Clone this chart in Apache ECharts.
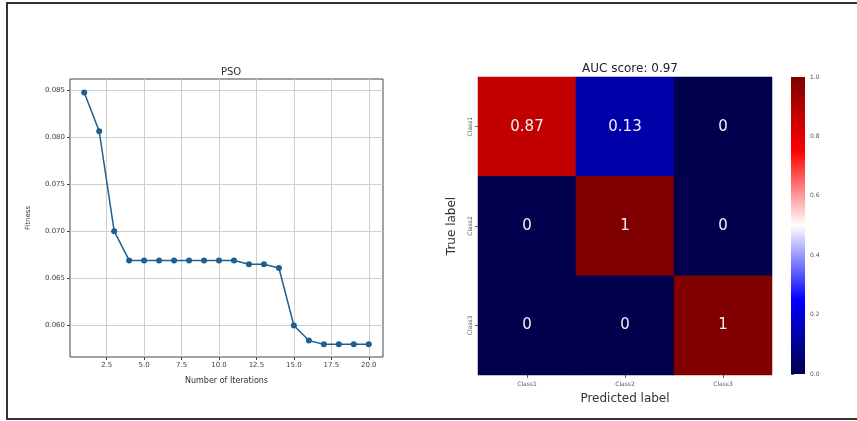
<!DOCTYPE html>
<html>
<head>
<meta charset="utf-8">
<script src="https://cdn.jsdelivr.net/npm/echarts@6/dist/echarts.min.js"></script>
<style>
  html, body { margin: 0; padding: 0; background: #fff; }
  #chart { width: 857px; height: 421px; }
</style>
</head>
<body>
<div id="chart"></div>
<script>
// PSO fitness per iteration
var iterations = [1, 2, 3, 4, 5, 6, 7, 8, 9, 10, 11, 12, 13, 14, 15, 16, 17, 18, 19, 20];
var fitness = [0.0847, 0.0806, 0.0700, 0.0669, 0.0669, 0.0669, 0.0669, 0.0669, 0.0669, 0.0669,
  0.0669, 0.0665, 0.0665, 0.0661, 0.0600, 0.0584, 0.0580, 0.0580, 0.0580, 0.0580];
var xTicks = [2.5, 5.0, 7.5, 10.0, 12.5, 15.0, 17.5, 20.0];
var yTicks = [0.060, 0.065, 0.070, 0.075, 0.080, 0.085];

// confusion matrix
var classes = ["Class1", "Class2", "Class3"];
var matrix = [
  [0.87, 0.13, 0],
  [0, 1, 0],
  [0, 0, 1]
];
var cbarTicks = [0.0, 0.2, 0.4, 0.6, 0.8, 1.0];

// matplotlib "seismic"
var seismic = ["#00004c", "#0000ff", "#ffffff", "#ff0000", "#800000"];

var heatData = [];
matrix.forEach(function (row, r) {
  row.forEach(function (v, c) { heatData.push([c, r, v]); });
});

var font = "DejaVu Sans";
var chart = echarts.init(document.getElementById("chart"));

var option = {
  animation: false,
  textStyle: { fontFamily: font },
  title: [
    { text: "PSO", left: 226, top: 62, textAlign: "center",
      textStyle: { fontSize: 10, fontWeight: "normal", color: "#333" } },
    { text: "AUC score: 0.97", left: 625, top: 58, textAlign: "center",
      textStyle: { fontSize: 12, fontWeight: "normal", color: "#222" } }
  ],
  grid: [
    { left: 70, top: 79, width: 313, height: 278, show: true, borderColor: "#444", borderWidth: 1, backgroundColor: "#fff" },
    { left: 478, top: 77, width: 294, height: 298 },
    { left: 791, top: 77, width: 14, height: 297 }
  ],
  visualMap: {
    show: false, min: 0, max: 1, seriesIndex: 1,
    inRange: { color: seismic }
  },
  xAxis: [
    {
      gridIndex: 0, type: "value", min: 0.05, max: 20.95,
      name: "Number of Iterations", nameLocation: "middle", nameGap: 20,
      nameTextStyle: { fontSize: 8, color: "#333" },
      axisLine: { show: false },
      axisTick: { show: true, length: 3, customValues: xTicks, lineStyle: { color: "#444" } },
      axisLabel: { customValues: xTicks, fontSize: 7, color: "#444", margin: 5,
        formatter: function (v) { return v.toFixed(1); } },
      splitLine: { show: true, lineStyle: { color: "#cfcfcf", width: 1 } }
    },
    {
      gridIndex: 1, type: "category", data: classes,
      name: "Predicted label", nameLocation: "middle", nameGap: 18,
      nameTextStyle: { fontSize: 12, color: "#333" },
      axisLine: { show: false },
      axisTick: { show: true, alignWithLabel: true, length: 3, lineStyle: { color: "#666" } },
      axisLabel: { fontSize: 6, color: "#555", margin: 6 },
      splitLine: { show: false }
    },
    {
      gridIndex: 2, type: "value", show: false, min: 0, max: 1
    }
  ],
  yAxis: [
    {
      gridIndex: 0, type: "value", min: 0.05666, max: 0.08614,
      name: "Fitness", nameLocation: "middle", nameGap: 38,
      nameTextStyle: { fontSize: 7, color: "#333" },
      axisLine: { show: false },
      axisTick: { show: true, length: 3, customValues: yTicks, lineStyle: { color: "#444" } },
      axisLabel: { customValues: yTicks, fontSize: 7, color: "#444", margin: 5,
        formatter: function (v) { return v.toFixed(3); } },
      splitLine: { show: true, lineStyle: { color: "#cfcfcf", width: 1 } }
    },
    {
      gridIndex: 1, type: "category", data: classes, inverse: true,
      name: "True label", nameLocation: "middle", nameGap: 20,
      nameTextStyle: { fontSize: 12, color: "#333" },
      axisLine: { show: false },
      axisTick: { show: true, alignWithLabel: true, length: 3, lineStyle: { color: "#666" } },
      axisLabel: { fontSize: 6, color: "#555", rotate: 90, margin: 5 },
      splitLine: { show: false }
    },
    {
      gridIndex: 2, type: "value", position: "right", min: 0, max: 1, interval: 0.2,
      axisLine: { show: false },
      axisTick: { show: true, length: 3, lineStyle: { color: "#666" } },
      axisLabel: { fontSize: 6, color: "#555", margin: 5,
        formatter: function (v) { return v.toFixed(1); } },
      splitLine: { show: false }
    }
  ],
  graphic: [
    {
      type: "rect", z: 5,
      shape: { x: 791, y: 77, width: 14, height: 297 },
      style: {
        fill: new echarts.graphic.LinearGradient(0, 1, 0, 0, seismic.map(function (c, i) {
          return { offset: i / (seismic.length - 1), color: c };
        }))
      }
    },
    {
      type: "rect", z: 10, silent: true,
      shape: { x: 7, y: 3, width: 870, height: 416 },
      style: { fill: "none", stroke: "#333", lineWidth: 2 }
    }
  ],
  series: [
    {
      type: "line", xAxisIndex: 0, yAxisIndex: 0,
      data: iterations.map(function (x, i) { return [x, fitness[i]]; }),
      color: "#1f5f8f",
      lineStyle: { width: 1.5 },
      symbol: "circle", symbolSize: 6
    },
    {
      type: "heatmap", xAxisIndex: 1, yAxisIndex: 1,
      data: heatData,
      label: { show: true, fontSize: 15, color: "#f4eef6" },
      itemStyle: { borderWidth: 0 }
    }
  ]
};

chart.setOption(option);
</script>
</body>
</html>
